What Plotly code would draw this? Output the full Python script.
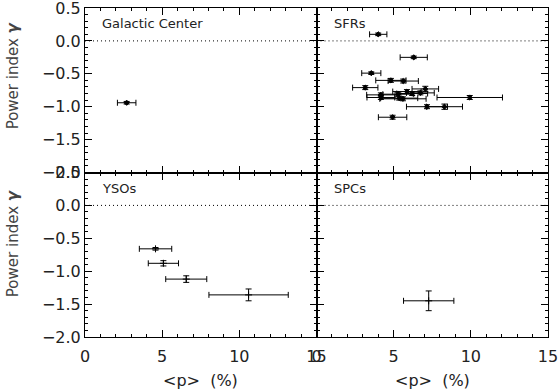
import plotly.graph_objects as go
from plotly.subplots import make_subplots

# ---- data ----
gc_p = [2.7]
gc_perr = [0.6]
gc_gamma = [-0.94]
gc_gerr = [0.02]

sfr_p = [4.0, 6.3, 3.55, 4.82, 5.62, 3.16, 7.05, 5.86, 6.73, 4.17, 5.3, 5.36, 4.17, 9.93, 7.16, 8.29, 4.93, 6.2, 5.6]
sfr_perr = [0.56, 0.88, 0.62, 0.98, 0.98, 0.82, 0.86, 0.92, 0.9, 0.92, 1.0, 1.2, 0.9, 2.12, 1.33, 1.17, 0.92, 1.0, 1.5]
sfr_gamma = [0.10, -0.25, -0.49, -0.60, -0.61, -0.71, -0.73, -0.77, -0.79, -0.82, -0.81, -0.87, -0.86, -0.86, -1.00, -1.00, -1.16, -0.80, -0.88]
sfr_gerr = [0.02, 0.02, 0.02, 0.03, 0.03, 0.03, 0.04, 0.03, 0.03, 0.03, 0.03, 0.03, 0.03, 0.03, 0.03, 0.04, 0.03, 0.03, 0.03]

yso_p = [4.57, 5.08, 6.56, 10.6]
yso_perr = [1.05, 0.98, 1.33, 2.57]
yso_gamma = [-0.66, -0.88, -1.12, -1.36]
yso_gerr = [0.02, 0.04, 0.05, 0.09]

spc_p = [7.27]
spc_perr = [1.63]
spc_gamma = [-1.45]
spc_gerr = [0.15]

panel_names = ["Galactic Center", "SFRs", "YSOs", "SPCs"]
x_label = "&lt;p&gt;  (%)"
y_label = "Power index <i><b>γ</b></i>"
x_range = [0, 15]
y_range = [-2.0, 0.5]

FONT = "DejaVu Sans"
TXT = "#222"

fig = make_subplots(rows=2, cols=2, horizontal_spacing=0, vertical_spacing=0)

def add(px, pe, g, ge, row, col, sym, size):
    fig.add_trace(go.Scatter(
        x=px, y=g, mode="markers",
        marker=dict(symbol=sym, size=size, color="black",
                    line=dict(color="black", width=1)),
        error_x=dict(type="data", array=pe, color="black", thickness=1, width=3),
        error_y=dict(type="data", array=ge, color="black", thickness=1, width=3),
        showlegend=False), row=row, col=col)

add(gc_p, gc_perr, gc_gamma, gc_gerr, 1, 1, "diamond", 4)
add(sfr_p, sfr_perr, sfr_gamma, sfr_gerr, 1, 2, "diamond", 4)
add(yso_p, yso_perr, yso_gamma, yso_gerr, 2, 1, "cross-thin", 5)
add(spc_p, spc_perr, spc_gamma, spc_gerr, 2, 2, "cross-thin", 5)

for r in (1, 2):
    for c in (1, 2):
        fig.add_hline(y=0, line=dict(color="black", width=1, dash="1px,3px"), row=r, col=c)

axis_common = dict(
    showline=True, linecolor="black", linewidth=1, mirror="allticks",
    ticks="inside", ticklen=7, tickcolor="black", tickwidth=1,
    showgrid=False, zeroline=False, automargin=False,
    ticklabeloverflow="allow",
    tickfont=dict(family=FONT, size=16, color=TXT),
)

for r in (1, 2):
    for c in (1, 2):
        fig.update_xaxes(
            range=x_range, tickmode="linear", tick0=0, dtick=5,
            showticklabels=(r == 2), ticklabelstandoff=5,
            minor=dict(dtick=1, ticks="inside", ticklen=3, tickcolor="black", tickwidth=1),
            row=r, col=c, **axis_common)
        fig.update_yaxes(
            range=y_range, tickmode="linear", tick0=0, dtick=0.5, tickformat=".1f",
            showticklabels=(c == 1),
            minor=dict(dtick=0.1, ticks="inside", ticklen=3, tickcolor="black", tickwidth=1),
            row=r, col=c, **axis_common)

# panel labels
refs = [("x domain", "y domain"), ("x2 domain", "y2 domain"), ("x3 domain", "y3 domain"), ("x4 domain", "y4 domain")]
for name, (xr, yr) in zip(panel_names, refs):
    fig.add_annotation(text=name, xref=xr, yref=yr, x=0.065, y=0.903,
                       xanchor="left", yanchor="middle", showarrow=False,
                       font=dict(family=FONT, size=13, color=TXT))

# axis titles
for xr in ("x3 domain", "x4 domain"):
    fig.add_annotation(text=x_label, xref=xr, yref="paper", x=0.5, y=-0.131,
                       xanchor="center", yanchor="middle", showarrow=False,
                       font=dict(family=FONT, size=16, color=TXT))
for yc in (0.796, 0.286):
    fig.add_annotation(text=y_label, xref="paper", yref="paper", x=-0.155, y=yc,
                       xanchor="center", yanchor="middle", textangle=-90, showarrow=False,
                       font=dict(family=FONT, size=15, color="#444"))

fig.update_layout(
    template="none",
    width=558, height=390,
    margin=dict(l=85, r=10, t=8, b=53),
    paper_bgcolor="white", plot_bgcolor="white",
    font=dict(family=FONT, color=TXT),
)

fig.write_html("out.html")
